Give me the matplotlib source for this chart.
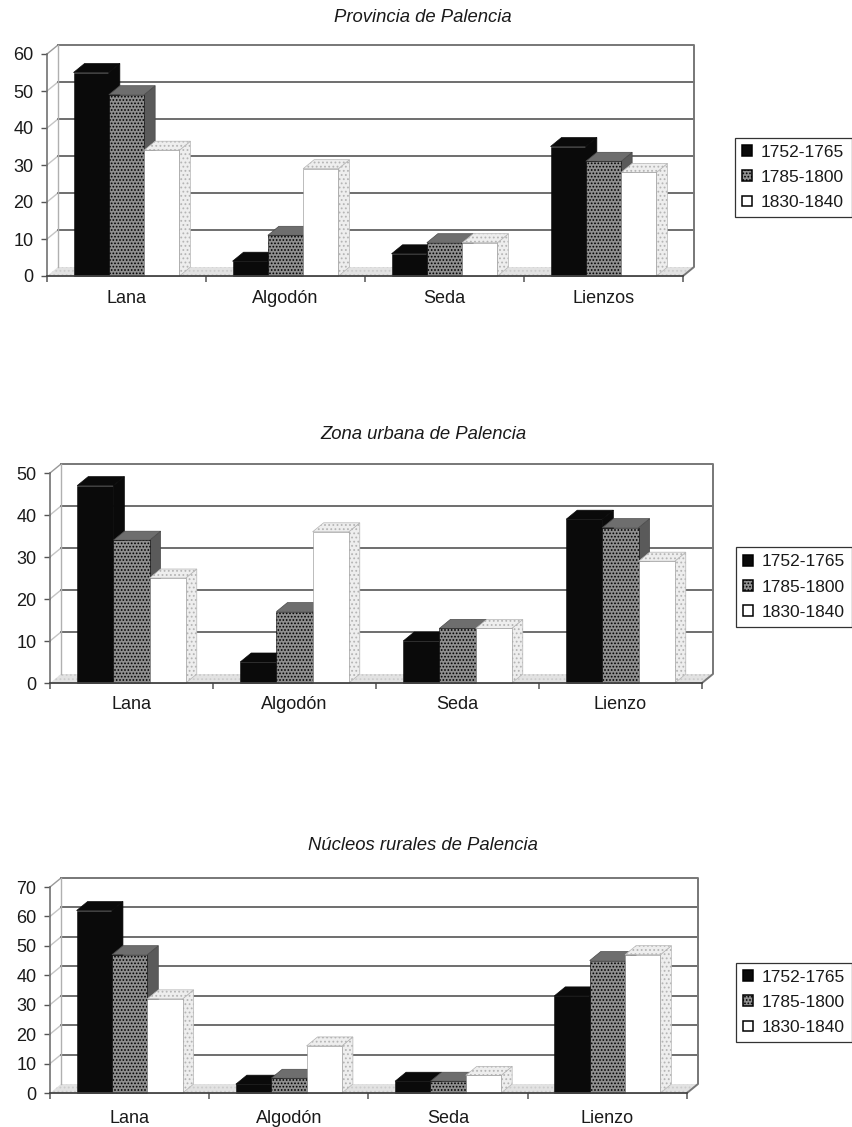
import matplotlib
matplotlib.use('Agg')
import matplotlib.pyplot as plt
from matplotlib.patches import Patch, Polygon

plt.rcParams['font.family'] = ['Liberation Sans', 'DejaVu Sans']
plt.rcParams['hatch.linewidth'] = 0.8

W, H = 852, 1127

# Data
periods = ['1752-1765', '1785-1800', '1830-1840']

cats_1 = ['Lana', 'Algodón', 'Seda', 'Lienzos']
early_1 = [55, 4, 6, 35]
mid_1 = [49, 11, 9, 31]
late_1 = [34, 29, 9, 28]

cats_2 = ['Lana', 'Algodón', 'Seda', 'Lienzo']
early_2 = [47, 5, 10, 39]
mid_2 = [34, 17, 13, 37]
late_2 = [25, 36, 13, 29]

cats_3 = ['Lana', 'Algodón', 'Seda', 'Lienzo']
early_3 = [62, 3, 4, 33]
mid_3 = [47, 5, 4, 45]
late_3 = [32, 16, 6, 47]

front = ['#0a0a0a', '#8f8f8f', '#ffffff']
hatches = ['', '.....', '']
front_edge = ['#0a0a0a', 'black', '#8a8a8a']
top = ['#0a0a0a', '#6e6e6e', '#eeeeee']
side = ['#0a0a0a', '#5a5a5a', '#eeeeee']
face_hatch = ['', '', '....']
face_edge = ['#0a0a0a', '#4a4a4a', '#b5b5b5']
bar_w = 0.222
depth_x, depth_y = 11, 9


def draw_panel(title, title_xy, cats, series, ymax, box, legend_box, label_y):
    left, right, y_top, y_bottom = box
    ax = fig.add_axes([left / W, 1 - y_bottom / H, (right - left) / W, (y_bottom - y_top) / H])
    ax.set_xlim(0, 4)
    ax.set_ylim(0, ymax)
    dx = depth_x * 4 / (right - left)
    dy = depth_y * ymax / (y_bottom - y_top)

    # floor and walls
    ax.add_patch(Polygon([(0, 0), (4, 0), (4 + dx, dy), (dx, dy)], fc='#e2e2e2', ec='#cccccc', hatch='....', lw=0, clip_on=False, zorder=1))
    for v in range(10, ymax, 10):
        ax.plot([0, dx], [v, v + dy], color='#c4c4c4', lw=1, clip_on=False, zorder=2)
        ax.plot([dx, 4 + dx], [v + dy, v + dy], color='#555555', lw=1.2, clip_on=False, zorder=2)
    ax.plot([0, dx], [ymax, ymax + dy], color='#999999', lw=1, clip_on=False, zorder=2)
    ax.plot([dx, 4 + dx, 4 + dx, 4], [ymax + dy, ymax + dy, dy, 0], color='#777777', lw=1.4, clip_on=False, zorder=2)
    ax.plot([dx, dx], [dy, ymax + dy], color='#b0b0b0', lw=1, clip_on=False, zorder=2)

    # bars go left to right so each front face hides the side of the one before
    z = 3
    for c in range(4):
        for s in range(3):
            v = series[s][c]
            x0 = c + 0.5 + (s - 1.5) * bar_w
            x1 = x0 + bar_w
            ax.add_patch(Polygon([(x1, 0), (x1 + dx, dy), (x1 + dx, v + dy), (x1, v)], fc=side[s], ec=face_edge[s], hatch=face_hatch[s], lw=0.5, clip_on=False, zorder=z))
            ax.add_patch(Polygon([(x0, v), (x1, v), (x1 + dx, v + dy), (x0 + dx, v + dy)], fc=top[s], ec=face_edge[s], hatch=face_hatch[s], lw=0.5, clip_on=False, zorder=z))
            ax.bar(x0, v, bar_w, align='edge', color=front[s], hatch=hatches[s], edgecolor=front_edge[s], lw=0.4, clip_on=False, zorder=z + 1)
            z += 2

    for name in ['top', 'right']:
        ax.spines[name].set_visible(False)
    ax.spines['left'].set_color('#666666')
    ax.spines['bottom'].set_color('#444444')
    ax.spines['left'].set_linewidth(1.1)
    ax.spines['bottom'].set_linewidth(1.3)
    ax.spines['bottom'].set_zorder(40)
    ax.set_yticks(range(0, ymax + 1, 10))
    ax.set_xticks([0, 1, 2, 3, 4], minor=True)
    ax.set_xticks([0.5, 1.5, 2.5, 3.5])
    ax.set_xticklabels(cats)
    ax.tick_params(axis='y', labelsize=13, length=4.3, width=1, color='#555555', pad=5.5, labelcolor='#1a1a1a')
    ax.tick_params(axis='x', which='major', length=0, labelsize=13, labelcolor='#1a1a1a', pad=(label_y - y_bottom - 7) * 0.72)
    ax.tick_params(axis='x', which='minor', length=4, width=1.1, color='#555555')

    fig.text(title_xy[0] / W, 1 - title_xy[1] / H, title, style='italic', fontsize=13.3, ha='center', va='center', color='#1a1a1a')

    handles = [Patch(fc=front[i], ec='black', hatch=hatches[i], lw=1.1, label=periods[i]) for i in range(3)]
    lx0, ly0, lx1, ly1 = legend_box
    leg = ax.legend(handles=handles, loc='center', bbox_to_anchor=(lx0 / W, 1 - ly1 / H, (lx1 - lx0) / W, (ly1 - ly0) / H),
                    bbox_transform=fig.transFigure, mode='expand', fontsize=12.5, handlelength=0.58, handleheight=0.58,
                    handletextpad=0.45, labelspacing=0.58, borderpad=0.42, borderaxespad=0, fancybox=False, framealpha=1)
    leg.get_frame().set_edgecolor('#333333')
    leg.get_frame().set_linewidth(0.9)
    for t in leg.get_texts():
        t.set_color('#1a1a1a')


fig = plt.figure(figsize=(W / 100, H / 100), dpi=100)

draw_panel('Provincia de Palencia', (423, 18), cats_1, [early_1, mid_1, late_1], 60,
           (47, 683, 54, 276), (735, 138, 852, 217), 297)
draw_panel('Zona urbana de Palencia', (423, 434), cats_2, [early_2, mid_2, late_2], 50,
           (50, 702, 473, 683), (736, 547, 852, 627), 703)
draw_panel('Núcleos rurales de Palencia', (423, 846), cats_3, [early_3, mid_3, late_3], 70,
           (50, 687, 887, 1093), (736, 963, 852, 1042), 1117)

fig.savefig('out.png', dpi=100)
